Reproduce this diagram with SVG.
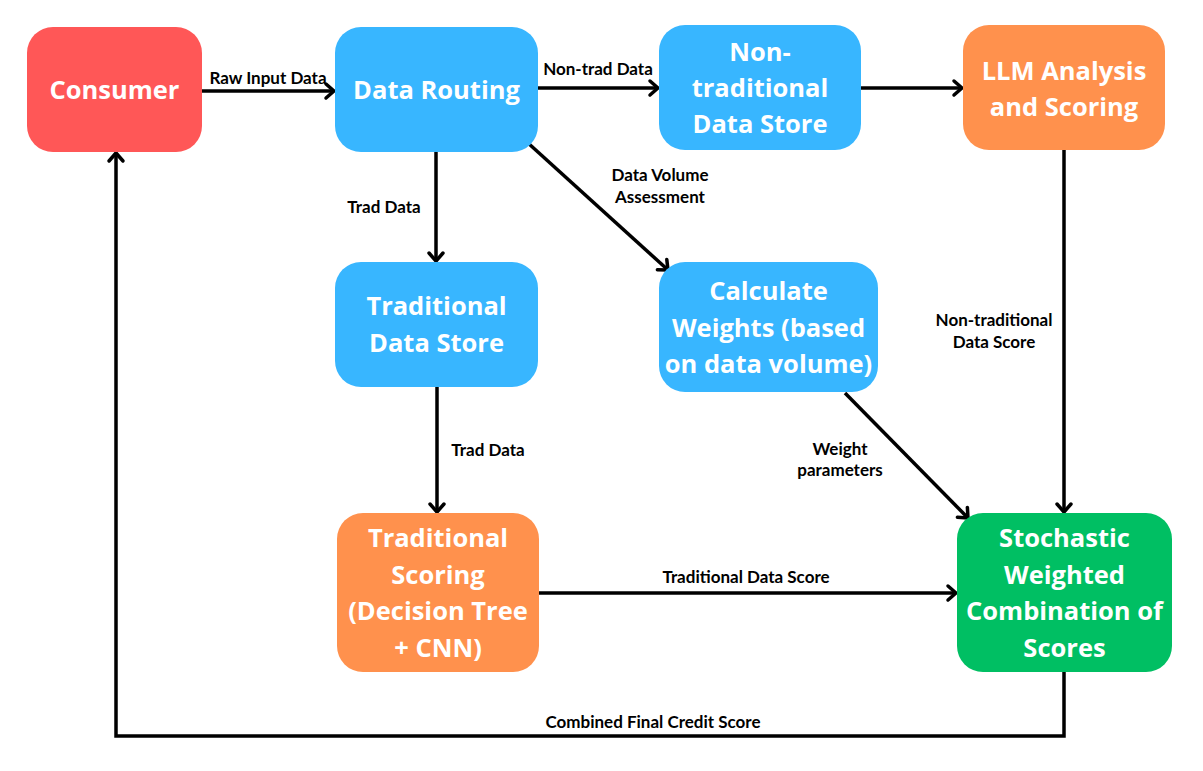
<svg xmlns="http://www.w3.org/2000/svg" width="1203" height="771" viewBox="0 0 1203 771">
<style>
.node text{font-family:"Open Sans","Liberation Sans",sans-serif;font-weight:700;font-size:25.5px;fill:#fff;text-anchor:middle}
.lbl{font-family:Lato,"Liberation Sans",sans-serif;font-weight:700;font-size:17px;fill:#000;text-anchor:middle}
.edge{stroke:#000;stroke-width:3.5;fill:none}
.blue{fill:#38B6FF}.orange{fill:#FF914D}.red{fill:#FF5757}.green{fill:#00BF63}
</style>
<defs>
<marker id="arr" markerUnits="userSpaceOnUse" markerWidth="18" markerHeight="20" refX="13" refY="10" orient="auto">
<path d="M5,3 L13,10 L5,17" fill="none" stroke="#000" stroke-width="3.5" stroke-linecap="round" stroke-linejoin="round"/>
</marker>
</defs>
<rect width="1203" height="771" fill="#fff"/>
<g id="connectors">
<line class="edge" x1="202" y1="91" x2="334" y2="91" marker-end="url(#arr)"/>
<line class="edge" x1="538" y1="88" x2="658" y2="88" marker-end="url(#arr)"/>
<line class="edge" x1="861" y1="88" x2="962" y2="88" marker-end="url(#arr)"/>
<line class="edge" x1="436" y1="152" x2="436" y2="261" marker-end="url(#arr)"/>
<line class="edge" x1="528" y1="143" x2="668" y2="270" marker-end="url(#arr)"/>
<line class="edge" x1="437" y1="387" x2="437" y2="512" marker-end="url(#arr)"/>
<line class="edge" x1="845" y1="393" x2="968" y2="518" marker-end="url(#arr)"/>
<line class="edge" x1="1064" y1="150" x2="1064" y2="512" marker-end="url(#arr)"/>
<line class="edge" x1="539" y1="593" x2="956" y2="593" marker-end="url(#arr)"/>
<polyline class="edge" points="1064,672 1064,736 116,736 116,153" marker-end="url(#arr)"/>
<text class="lbl" x="268" y="84">Raw Input Data</text>
<text class="lbl" x="598" y="75">Non-trad Data</text>
<text class="lbl" x="384" y="213">Trad Data</text>
<text class="lbl" x="660" y="181">Data Volume</text>
<text class="lbl" x="660" y="203">Assessment</text>
<text class="lbl" x="488" y="456">Trad Data</text>
<text class="lbl" x="840" y="455">Weight</text>
<text class="lbl" x="840" y="476">parameters</text>
<text class="lbl" x="994" y="326">Non-traditional</text>
<text class="lbl" x="994" y="348">Data Score</text>
<text class="lbl" x="746" y="583">Traditional Data Score</text>
<text class="lbl" x="653" y="728">Combined Final Credit Score</text>
</g>
<g id="consumer" class="node">
<rect class="red" x="27" y="27" width="175" height="125" rx="26"/>
<text x="114.5" y="99">Consumer</text>
</g>
<g id="data-routing" class="node">
<rect class="blue" x="335" y="27" width="203" height="125" rx="26"/>
<text x="436.5" y="99">Data Routing</text>
</g>
<g id="nontrad-store" class="node">
<rect class="blue" x="659" y="25" width="202" height="125" rx="26"/>
<text x="760" y="61">Non-</text>
<text x="760" y="97">traditional</text>
<text x="760" y="133">Data Store</text>
</g>
<g id="llm" class="node">
<rect class="orange" x="963" y="25" width="202" height="125" rx="26"/>
<text x="1064" y="80">LLM Analysis</text>
<text x="1064" y="116">and Scoring</text>
</g>
<g id="trad-store" class="node">
<rect class="blue" x="335" y="262" width="203" height="125" rx="26"/>
<text x="436.5" y="315">Traditional</text>
<text x="436.5" y="352">Data Store</text>
</g>
<g id="calc-weights" class="node">
<rect class="blue" x="659" y="262" width="219" height="130" rx="26"/>
<text x="768.5" y="300">Calculate</text>
<text x="768.5" y="337">Weights (based</text>
<text x="768.5" y="373">on data volume)</text>
</g>
<g id="trad-scoring" class="node">
<rect class="orange" x="337" y="513" width="202" height="159" rx="26"/>
<text x="438" y="547">Traditional</text>
<text x="438" y="584">Scoring</text>
<text x="438" y="620">(Decision Tree</text>
<text x="438" y="657">+ CNN)</text>
</g>
<g id="stochastic" class="node">
<rect class="green" x="957" y="513" width="215" height="159" rx="26"/>
<text x="1064.5" y="547">Stochastic</text>
<text x="1064.5" y="584">Weighted</text>
<text x="1064.5" y="620">Combination of</text>
<text x="1064.5" y="657">Scores</text>
</g>
</svg>
